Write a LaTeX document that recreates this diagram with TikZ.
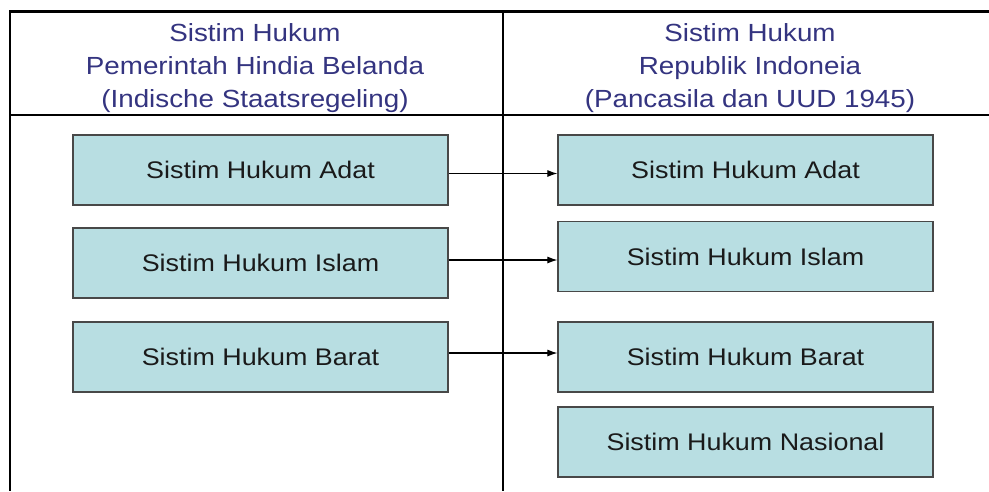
\documentclass[tikz,border=0pt]{standalone}
\usepackage{fontspec}
\setmainfont{Liberation Sans}[FakeStretch=1.12]
\usetikzlibrary{arrows.meta}
\definecolor{boxfill}{RGB}{184,222,226}
\definecolor{boxline}{RGB}{72,72,72}
\definecolor{headtext}{RGB}{52,52,128}
\definecolor{bodytext}{RGB}{26,26,26}
\begin{document}
\begin{tikzpicture}[x=1pt,y=-1pt,
  lawbox/.style={draw=boxline, line width=1.2pt, fill=boxfill,
    minimum width=375pt, minimum height=70pt, inner sep=0pt,
    font=\fontsize{24}{28}\selectfont, text=bodytext},
  head/.style={align=center, inner sep=0pt, text=headtext,
    font=\fontsize{24.8}{33}\selectfont},
  link/.style={-{Latex[length=10pt,width=7pt]}, line width=1.1pt}
]
\useasboundingbox (0,0) rectangle (989,491);
\fill[white] (0,0) rectangle (989,491);

% table frame: open on the right and at the bottom
\draw[line width=2.6pt] (989,11.5) -- (10,11.5) -- (10,491);
\draw[line width=1.2pt] (10,115) -- (989,115);
\draw[line width=1.6pt] (503,11.5) -- (503,491);

% column headings
\node[head] (hLeft) at (255,68.5) {Sistim Hukum\\Pemerintah Hindia Belanda\\(Indische Staatsregeling)};
\node[head] (hRight) at (750,68.5) {Sistim Hukum\\Republik Indoneia\\(Pancasila dan UUD 1945)};

% legal systems of the colonial government
\node[lawbox] (adatL)  at (260.5,170) {Sistim Hukum Adat};
\node[lawbox] (islamL) at (260.5,263) {Sistim Hukum Islam};
\node[lawbox] (baratL) at (260.5,357) {Sistim Hukum Barat};

% legal systems of the republic
\node[lawbox] (adatR)  at (745.5,170)   {Sistim Hukum Adat};
\node[lawbox] (islamR) at (745.5,256.5) {Sistim Hukum Islam};
\node[lawbox] (baratR) at (745.5,357)   {Sistim Hukum Barat};
\node[lawbox] (nasR)   at (745.5,442)   {Sistim Hukum Nasional};

% continuity arrows
\draw[link] ([yshift=-3.5pt]adatL.east)  -- ([yshift=-3.5pt]adatL.east -| adatR.west);
\draw[link] ([yshift=3pt]islamL.east)    -- ([yshift=3pt]islamL.east -| islamR.west);
\draw[link] ([yshift=4pt]baratL.east)    -- ([yshift=4pt]baratL.east -| baratR.west);
\end{tikzpicture}
\end{document}
